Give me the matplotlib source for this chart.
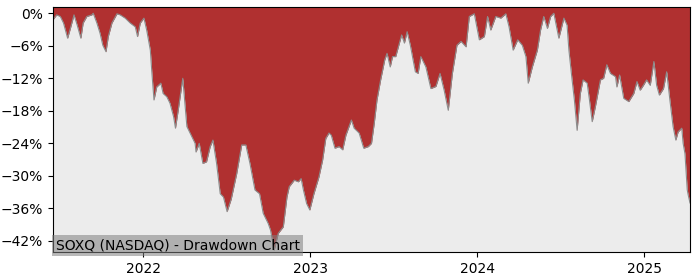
import matplotlib
matplotlib.use("Agg")
import matplotlib.pyplot as plt
import matplotlib.dates as mdates
from matplotlib.ticker import FuncFormatter
import pandas as pd

dates = [
    "2021-06-17", "2021-06-25", "2021-07-03", "2021-07-10", "2021-07-19", "2021-07-26",
    "2021-08-02", "2021-08-09", "2021-08-17", "2021-08-22", "2021-08-30", "2021-09-10",
    "2021-09-13", "2021-09-21", "2021-09-28", "2021-10-04", "2021-10-11", "2021-10-16",
    "2021-10-24", "2021-11-04", "2021-11-11", "2021-11-22", "2021-12-03", "2021-12-14",
    "2021-12-19", "2021-12-25", "2022-01-02", "2022-01-08", "2022-01-16", "2022-01-19",
    "2022-01-24", "2022-01-30", "2022-02-08", "2022-02-13", "2022-02-21", "2022-02-28",
    "2022-03-08", "2022-03-12", "2022-03-18", "2022-03-28", "2022-04-06", "2022-04-17",
    "2022-04-24", "2022-04-26", "2022-05-03", "2022-05-11", "2022-05-19", "2022-05-27",
    "2022-06-02", "2022-06-10", "2022-06-18", "2022-06-25", "2022-07-03", "2022-07-12",
    "2022-07-24", "2022-08-04", "2022-08-13", "2022-08-22", "2022-09-02", "2022-09-12",
    "2022-09-20", "2022-10-01", "2022-10-06", "2022-10-14", "2022-10-23", "2022-11-03",
    "2022-11-11", "2022-11-16", "2022-11-27", "2022-12-06", "2022-12-12", "2022-12-17",
    "2022-12-24", "2022-12-31", "2023-01-09", "2023-01-20", "2023-01-28", "2023-02-04",
    "2023-02-11", "2023-02-16", "2023-02-24", "2023-03-05", "2023-03-13", "2023-03-20",
    "2023-04-01", "2023-04-07", "2023-04-18", "2023-04-28", "2023-05-08", "2023-05-15",
    "2023-05-21", "2023-05-27", "2023-06-04", "2023-06-13", "2023-06-18", "2023-06-25",
    "2023-06-30", "2023-07-07", "2023-07-15", "2023-07-20", "2023-07-26", "2023-08-01",
    "2023-08-08", "2023-08-14", "2023-08-19", "2023-08-25", "2023-08-31", "2023-09-11",
    "2023-09-22", "2023-10-03", "2023-10-12", "2023-10-21", "2023-10-30", "2023-11-08",
    "2023-11-18", "2023-11-27", "2023-12-08", "2023-12-15", "2023-12-26", "2024-01-06",
    "2024-01-17", "2024-01-24", "2024-01-31", "2024-02-11", "2024-02-22", "2024-03-04",
    "2024-03-11", "2024-03-20", "2024-03-30", "2024-04-09", "2024-04-17", "2024-04-22",
    "2024-05-01", "2024-05-12", "2024-05-19", "2024-05-26", "2024-06-03", "2024-06-10",
    "2024-06-17", "2024-06-28", "2024-07-09", "2024-07-16", "2024-07-20", "2024-07-27",
    "2024-08-01", "2024-08-07", "2024-08-14", "2024-08-20", "2024-08-29", "2024-09-03",
    "2024-09-09", "2024-09-16", "2024-09-27", "2024-10-04", "2024-10-11", "2024-10-19",
    "2024-10-30", "2024-11-02", "2024-11-08", "2024-11-17", "2024-11-28", "2024-12-09",
    "2024-12-16", "2024-12-23", "2024-12-30", "2025-01-06", "2025-01-14", "2025-01-22",
    "2025-01-28", "2025-02-03", "2025-02-12", "2025-02-19", "2025-02-26", "2025-03-05",
    "2025-03-11", "2025-03-16", "2025-03-24", "2025-03-27", "2025-03-31", "2025-04-05",
    "2025-04-07", "2025-04-11",
]

drawdown = [
    -1.2, -0.3, -0.6, -1.8, -4.6, -2.5,
    -0.3, -2.2, -4.6, -1.8, -0.6, -0.3,
    0.0, -1.8, -3.7, -5.9, -7.1, -4.3,
    -1.8, -0.1, -0.3, -0.9, -1.8, -2.5,
    -4.3, -1.8, -0.9, -3.1, -6.8, -10.5,
    -16.0, -13.6, -12.9, -14.8, -15.4, -16.6,
    -19.1, -21.2, -17.9, -12.0, -20.9, -22.8,
    -24.0, -25.6, -24.0, -27.7, -27.4, -24.6,
    -23.4, -27.7, -33.3, -33.9, -36.6, -34.3,
    -29.6, -24.3, -24.3, -27.7, -32.6, -33.3,
    -36.9, -38.8, -40.0, -43.7, -40.6, -39.4,
    -33.9, -32.0, -30.8, -31.1, -30.5, -32.6,
    -35.1, -36.3, -33.3, -30.2, -27.1, -23.1,
    -22.1, -22.5, -24.9, -24.6, -25.2, -22.5,
    -19.7, -21.2, -22.1, -24.9, -24.6, -24.0,
    -20.3, -16.0, -12.3, -8.6, -7.4, -9.9,
    -8.0, -8.0, -5.5, -4.0, -5.5, -3.4,
    -5.9, -8.6, -10.8, -11.1, -8.0, -9.9,
    -13.9, -13.5, -11.1, -14.2, -17.9, -11.1,
    -5.9, -5.2, -6.2, -0.6, -0.1, -4.9,
    -4.3, -0.6, -3.1, -0.6, -0.9, -0.1,
    -2.5, -6.8, -4.9, -5.9, -8.0, -12.9,
    -9.9, -6.8, -3.1, -0.6, -2.8, -0.6,
    0.0, -4.6, -0.9, -2.2, -6.8, -12.3,
    -16.0, -21.6, -14.8, -12.3, -12.9, -16.0,
    -20.0, -17.2, -12.3, -12.0, -9.5, -11.1,
    -11.7, -13.6, -11.4, -15.7, -16.3, -14.8,
    -12.6, -14.2, -13.3, -12.3, -13.3, -8.9,
    -13.3, -15.1, -13.9, -10.8, -16.0, -20.9,
    -23.4, -21.9, -21.2, -24.0, -25.9, -32.6,
    -33.5, -35.0,
]

title_text = "SOXQ (NASDAQ) - Drawdown Chart"
ytick_values = [0, -6, -12, -18, -24, -30, -36, -42]

x = pd.to_datetime(dates)

y_bottom, y_top = -44.1, 1.1

fig = plt.figure(figsize=(7.0, 2.8), dpi=100)
ax = fig.add_axes([0.0757, 0.099, 0.91, 0.875])
ax.set_facecolor("#ececec")

ax.fill_between(x, drawdown, y_top, color="#b03030", linewidth=0)
ax.plot(x, drawdown, color="#8c8c8c", linewidth=0.8)

ax.set_xlim(x[0], x[-1])
ax.set_ylim(y_bottom, y_top)
ax.set_yticks(ytick_values)
ax.yaxis.set_major_formatter(FuncFormatter(lambda v, p: f"{v:.0f}%".replace("-", "\u2212")))
ax.xaxis.set_major_locator(mdates.YearLocator())
ax.xaxis.set_major_formatter(mdates.DateFormatter("%Y"))
ax.tick_params(labelsize=10)

ax.text(0.004, 0.0, title_text, transform=ax.transAxes, ha="left", va="bottom",
        fontsize=10, color="black",
        bbox=dict(facecolor="#808080", edgecolor="none", alpha=0.55, pad=2.5))

fig.savefig("out.png", dpi=100)
